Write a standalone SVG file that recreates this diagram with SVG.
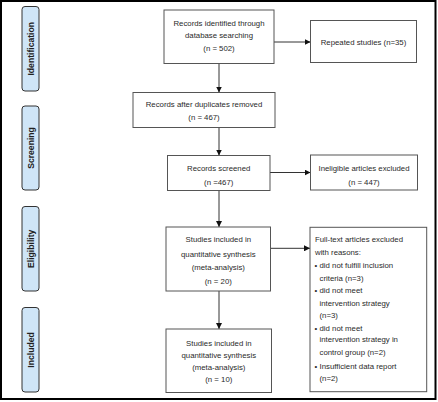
<svg xmlns="http://www.w3.org/2000/svg" width="438" height="402" viewBox="0 0 438 402">
<defs>
<marker id="ah" viewBox="0 0 6 6" refX="6" refY="3" markerWidth="6" markerHeight="6" markerUnits="userSpaceOnUse" orient="auto">
<path d="M0,0 L6,3 L0,6 z" fill="#111"/>
</marker>
<style>
.box{fill:#fff;stroke:#555;stroke-width:1}
.side{fill:#cfe5f7;stroke:#333;stroke-width:1}
.t{font-family:"Liberation Sans",Arial,sans-serif;font-size:7.8px;fill:#2a2a2a;text-anchor:middle}
.l{font-family:"Liberation Sans",Arial,sans-serif;font-size:7.8px;fill:#2a2a2a}
.s{font-family:"Liberation Sans",Arial,sans-serif;font-size:8.6px;font-weight:bold;fill:#222;text-anchor:middle}
.c{stroke:#333;stroke-width:1;fill:none;marker-end:url(#ah)}
</style>
</defs>
<rect x="0" y="0" width="438" height="402" fill="#fff"/>
<rect x="1" y="1" width="434.5" height="398" fill="none" stroke="#000" stroke-width="2"/>
<g id="stage-identification"><rect class="side" x="22" y="6.5" width="17" height="84.5" rx="3"/><text class="s" transform="translate(33.6,48.8) rotate(-90)">Identification</text></g>
<g id="stage-screening"><rect class="side" x="22" y="106" width="17" height="84" rx="3"/><text class="s" transform="translate(33.6,148) rotate(-90)">Screening</text></g>
<g id="stage-eligibility"><rect class="side" x="22" y="206.5" width="17" height="84.5" rx="3"/><text class="s" transform="translate(33.6,248.8) rotate(-90)">Eligibility</text></g>
<g id="stage-included"><rect class="side" x="22" y="307.5" width="17" height="84.5" rx="3"/><text class="s" transform="translate(33.6,350) rotate(-90)">Included</text></g>
<g id="connectors">
<line class="c" x1="219" y1="63.5" x2="219" y2="92.5"/>
<line class="c" x1="219" y1="127.5" x2="219" y2="155.5"/>
<line class="c" x1="219" y1="190.5" x2="219" y2="227"/>
<line class="c" x1="219" y1="291" x2="219" y2="329"/>
<line class="c" x1="274" y1="42" x2="310.5" y2="42"/>
<line class="c" x1="270" y1="172.5" x2="310.5" y2="172.5"/>
<line class="c" x1="270.5" y1="248.3" x2="310" y2="248.3"/>
</g>
<g id="records-identified"><rect class="box" x="164" y="10" width="110" height="53.5"/>
<text class="t" x="219" y="26.1">Records identified through</text>
<text class="t" x="219" y="37.8">database searching</text>
<text class="t" x="219" y="50.5">(n = 502)</text></g>
<g id="repeated"><rect class="box" x="310.5" y="20.5" width="106" height="42"/>
<text class="t" x="363.5" y="44.8">Repeated studies (n=35)</text></g>
<g id="after-duplicates"><rect class="box" x="133" y="92.5" width="142" height="35"/>
<text class="t" x="204" y="107">Records after duplicates removed</text>
<text class="t" x="204" y="119.5">(n = 467)</text></g>
<g id="screened"><rect class="box" x="167.5" y="155.5" width="102.5" height="35"/>
<text class="t" x="218.7" y="171">Records screened</text>
<text class="t" x="218.7" y="184.5">(n =467)</text></g>
<g id="ineligible"><rect class="box" x="310.5" y="155" width="107" height="35"/>
<text class="t" x="364" y="171">Ineligible articles excluded</text>
<text class="t" x="364" y="185.3">(n = 447)</text></g>
<g id="studies-20"><rect class="box" x="166" y="227" width="104.5" height="64"/>
<text class="t" x="218.3" y="242.1">Studies included in</text>
<text class="t" x="218.3" y="256.5">quantitative synthesis</text>
<text class="t" x="218.3" y="269.5">(meta-analysis)</text>
<text class="t" x="218.3" y="283.8">(n = 20)</text></g>
<g id="fulltext-excluded"><rect class="box" x="310" y="227.3" width="116.7" height="164.4"/>
<text class="l" x="315" y="242.1">Full-text articles excluded</text>
<text class="l" x="315" y="254.5">with reasons:</text>
<text class="l" x="314.5" y="267.8">•</text><text class="l" x="319.5" y="267.8">did not fulfill inclusion</text>
<text class="l" x="319.5" y="281.1">criteria (n=3)</text>
<text class="l" x="314.5" y="292.8">•</text><text class="l" x="319.5" y="292.8">did not meet</text>
<text class="l" x="319.5" y="305.5">intervention strategy</text>
<text class="l" x="319.5" y="317.8">(n=3)</text>
<text class="l" x="314.5" y="330.5">•</text><text class="l" x="319.5" y="330.5">did not meet</text>
<text class="l" x="319.5" y="342.1">intervention strategy in</text>
<text class="l" x="319.5" y="355.1">control group (n=2)</text>
<text class="l" x="314.5" y="368.5">•</text><text class="l" x="319.5" y="368.5">Insufficient data report</text>
<text class="l" x="319.5" y="380.5">(n=2)</text></g>
<g id="studies-10"><rect class="box" x="166" y="329" width="105.5" height="63.5"/>
<text class="t" x="218.8" y="345.5">Studies included in</text>
<text class="t" x="218.8" y="357.8">quantitative synthesis</text>
<text class="t" x="218.8" y="369.5">(meta-analysis)</text>
<text class="t" x="218.8" y="381.8">(n = 10)</text></g>
</svg>
